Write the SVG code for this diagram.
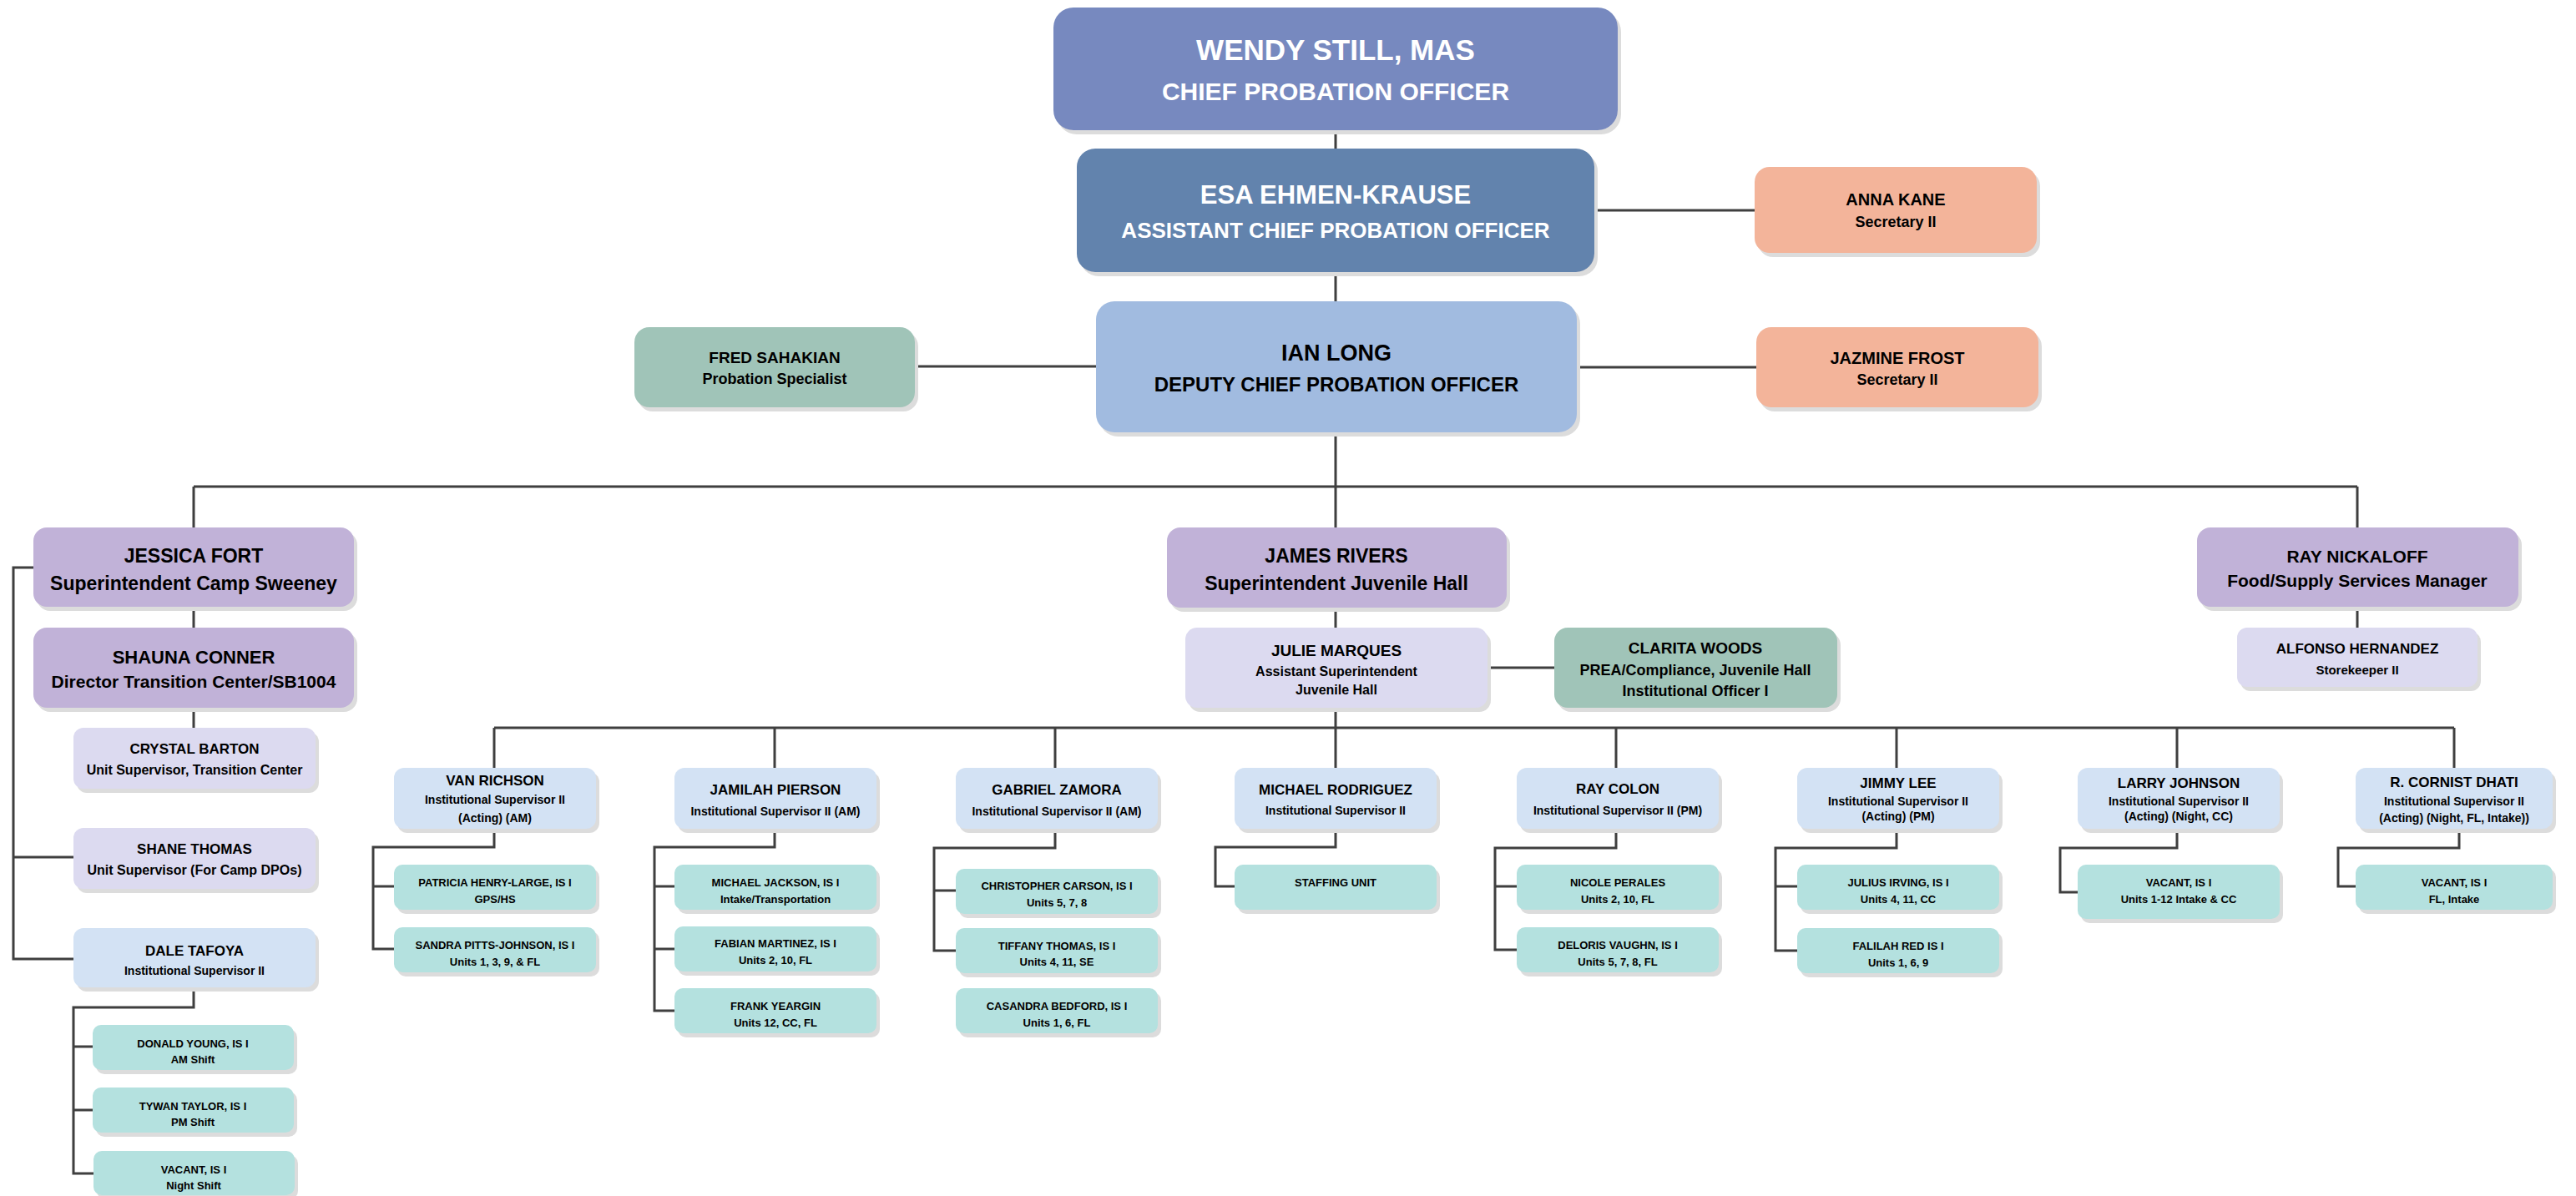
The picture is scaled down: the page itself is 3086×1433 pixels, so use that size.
<svg xmlns="http://www.w3.org/2000/svg" width="3086" height="1433" viewBox="0 0 3086 1433">
<defs>
<filter id="sh" x="-5%" y="-5%" width="115%" height="125%"><feDropShadow dx="4" dy="5" stdDeviation="0" flood-color="#dcdcdc" flood-opacity="1"/></filter>
</defs>
<style>
text{font-family:"Liberation Sans",Arial,sans-serif;font-weight:bold;text-anchor:middle;fill:#000}
.w{fill:#ffffff}
rect{filter:url(#sh)}
.c1{fill:#7789BF}.c2{fill:#6283AD}.c3{fill:#A1BBE0}.c4{fill:#F3B49A}.c5{fill:#A0C4B8}
.pu{fill:#C1B2D8}.lv{fill:#DCDAF0}.lb{fill:#D3E2F4}.tl{fill:#B4E1DF}
.con path{fill:none;stroke:#3f3f3f;stroke-width:3}
.s13{font-size:13px}.s14{font-size:14px}.s15{font-size:15px}.s16{font-size:16px}.s17{font-size:17px}.s18{font-size:18px}.s19{font-size:19px}.s20{font-size:20px}.s21{font-size:21px}.s22{font-size:22px}.s23{font-size:23px}
</style>
<rect width="3086" height="1433" fill="#ffffff" style="filter:none"/>
<g class="con">
<path d="M1600 156V178M1600 326V361M1910 252H2102M1889 440H2104M1096 439H1313M1600 518V583M232 583H2824M232 583V632M1600 583V632M2824 583V632"/>
<path d="M232 727V752M232 848V872M40 680H16V1149H88M16 1027H88M232 1183V1207H88V1406H112M88 1254H111M88 1330H111"/>
<path d="M1600 728V752M1782 800H1862M1600 848V920M592 872H2940M592 872V920M928 872V920M1264 872V920M1936 872V920M2272 872V920M2608 872V920M2940 872V920M2824 727V752"/>
<path d="M592 993V1015H447V1137H472M447 1062H472"/>
<path d="M928 993V1015H784V1211H808M784 1062H808M784 1137H808"/>
<path d="M1264 993V1016H1119V1139H1145M1119 1067H1145"/>
<path d="M1600 993V1015H1456V1062H1479"/>
<path d="M1936 993V1016H1791V1138H1817M1791 1062H1817"/>
<path d="M2272 993V1016H2127V1139H2153M2127 1062H2153"/>
<path d="M2608 993V1016H2468V1069H2489"/>
<path d="M2946 993V1016H2801V1062H2822"/>
</g>
<g id="wendy"><rect class="c1" x="1262" y="9" width="676" height="147" rx="24"/><text class="w" x="1600" y="72" style="font-size:35px">WENDY STILL, MAS</text><text class="w" x="1600" y="120" style="font-size:30px">CHIEF PROBATION OFFICER</text></g>
<g id="esa"><rect class="c2" x="1290" y="178" width="620" height="148" rx="22"/><text class="w" x="1600" y="244" style="font-size:31px">ESA EHMEN-KRAUSE</text><text class="w" x="1600" y="285" style="font-size:26px">ASSISTANT CHIEF PROBATION OFFICER</text></g>
<g id="ian"><rect class="c3" x="1313" y="361" width="576" height="157" rx="22"/><text x="1601" y="432" style="font-size:27px">IAN LONG</text><text x="1601" y="469" style="font-size:24px">DEPUTY CHIEF PROBATION OFFICER</text></g>
<g id="anna"><rect class="c4" x="2102" y="200" width="338" height="103" rx="18"/><text class="s20" x="2271" y="246">ANNA KANE</text><text class="s18" x="2271" y="272">Secretary II</text></g>
<g id="jazmine"><rect class="c4" x="2104" y="392" width="338" height="96" rx="18"/><text class="s20" x="2273" y="436">JAZMINE FROST</text><text class="s18" x="2273" y="461">Secretary II</text></g>
<g id="fred"><rect class="c5" x="760" y="392" width="336" height="96" rx="18"/><text class="s19" x="928" y="435">FRED SAHAKIAN</text><text class="s18" x="928" y="460">Probation Specialist</text></g>
<g id="jessica"><rect class="pu" x="40" y="632" width="384" height="95" rx="16"/><text class="s23" x="232" y="674">JESSICA FORT</text><text class="s23" x="232" y="707">Superintendent Camp Sweeney</text></g>
<g id="shauna"><rect class="pu" x="40" y="752" width="384" height="96" rx="16"/><text class="s22" x="232" y="795">SHAUNA CONNER</text><text class="s21" x="232" y="824">Director Transition Center/SB1004</text></g>
<g id="crystal"><rect class="lv" x="88" y="872" width="290" height="73" rx="12"/><text class="s17" x="233" y="903">CRYSTAL BARTON</text><text class="s16" x="233" y="928">Unit Supervisor, Transition Center</text></g>
<g id="shane"><rect class="lv" x="88" y="992" width="290" height="73" rx="12"/><text class="s17" x="233" y="1023">SHANE THOMAS</text><text class="s16" x="233" y="1048">Unit Supervisor (For Camp DPOs)</text></g>
<g id="dale"><rect class="lb" x="88" y="1112" width="290" height="71" rx="12"/><text class="s17" x="233" y="1145">DALE TAFOYA</text><text class="s14" x="233" y="1168">Institutional Supervisor II</text></g>
<g id="donald"><rect class="tl" x="111" y="1228" width="241" height="54" rx="10"/><text class="s13" x="231" y="1255">DONALD YOUNG, IS I</text><text class="s13" x="231" y="1274">AM Shift</text></g>
<g id="tywan"><rect class="tl" x="111" y="1303" width="241" height="54" rx="10"/><text class="s13" x="231" y="1330">TYWAN TAYLOR, IS I</text><text class="s13" x="231" y="1349">PM Shift</text></g>
<g id="vacant-night"><rect class="tl" x="112" y="1379" width="241" height="53" rx="10"/><text class="s13" x="232" y="1406">VACANT, IS I</text><text class="s13" x="232" y="1425">Night Shift</text></g>
<g id="james"><rect class="pu" x="1398" y="632" width="407" height="96" rx="16"/><text class="s23" x="1601" y="674">JAMES RIVERS</text><text class="s23" x="1601" y="707">Superintendent Juvenile Hall</text></g>
<g id="julie"><rect class="lv" x="1420" y="752" width="362" height="96" rx="14"/><text class="s19" x="1601" y="786">JULIE MARQUES</text><text class="s16" x="1601" y="810">Assistant Superintendent</text><text class="s16" x="1601" y="832">Juvenile Hall</text></g>
<g id="clarita"><rect class="c5" x="1862" y="752" width="339" height="96" rx="16"/><text class="s19" x="2031" y="783">CLARITA WOODS</text><text class="s18" x="2031" y="809">PREA/Compliance, Juvenile Hall</text><text class="s18" x="2031" y="834">Institutional Officer I</text></g>
<g id="nickaloff"><rect class="pu" x="2632" y="632" width="385" height="95" rx="16"/><text class="s21" x="2824" y="674">RAY NICKALOFF</text><text class="s21" x="2824" y="703">Food/Supply Services Manager</text></g>
<g id="alfonso"><rect class="lv" x="2680" y="752" width="288" height="71" rx="12"/><text class="s17" x="2824" y="783">ALFONSO HERNANDEZ</text><text class="s15" x="2824" y="808">Storekeeper II</text></g>
<g id="van"><rect class="lb" x="472" y="920" width="242" height="73" rx="12"/><text class="s17" x="593" y="941">VAN RICHSON</text><text class="s14" x="593" y="963">Institutional Supervisor II</text><text class="s14" x="593" y="985">(Acting) (AM)</text></g>
<g id="jamilah"><rect class="lb" x="808" y="920" width="242" height="73" rx="12"/><text class="s17" x="929" y="952">JAMILAH PIERSON</text><text class="s14" x="929" y="977">Institutional Supervisor II (AM)</text></g>
<g id="gabriel"><rect class="lb" x="1145" y="920" width="242" height="73" rx="12"/><text class="s17" x="1266" y="952">GABRIEL ZAMORA</text><text class="s14" x="1266" y="977">Institutional Supervisor II (AM)</text></g>
<g id="rodriguez"><rect class="lb" x="1479" y="920" width="242" height="73" rx="12"/><text class="s17" x="1600" y="952">MICHAEL RODRIGUEZ</text><text class="s14" x="1600" y="976">Institutional Supervisor II</text></g>
<g id="colon"><rect class="lb" x="1817" y="920" width="242" height="73" rx="12"/><text class="s17" x="1938" y="951">RAY COLON</text><text class="s14" x="1938" y="976">Institutional Supervisor II (PM)</text></g>
<g id="lee"><rect class="lb" x="2153" y="920" width="242" height="73" rx="12"/><text class="s17" x="2274" y="944">JIMMY LEE</text><text class="s14" x="2274" y="965">Institutional Supervisor II</text><text class="s14" x="2274" y="983">(Acting) (PM)</text></g>
<g id="johnson"><rect class="lb" x="2489" y="920" width="242" height="73" rx="12"/><text class="s17" x="2610" y="944">LARRY JOHNSON</text><text class="s14" x="2610" y="965">Institutional Supervisor II</text><text class="s14" x="2610" y="983">(Acting) (Night, CC)</text></g>
<g id="dhati"><rect class="lb" x="2822" y="920" width="236" height="73" rx="12"/><text class="s17" x="2940" y="943">R. CORNIST DHATI</text><text class="s14" x="2940" y="965">Institutional Supervisor II</text><text class="s14" x="2940" y="985">(Acting) (Night, FL, Intake))</text></g>
<g id="patricia"><rect class="tl" x="472" y="1036" width="242" height="54" rx="10"/><text class="s13" x="593" y="1062">PATRICIA HENRY-LARGE, IS I</text><text class="s13" x="593" y="1082">GPS/HS</text></g>
<g id="sandra"><rect class="tl" x="472" y="1111" width="242" height="54" rx="10"/><text class="s13" x="593" y="1137">SANDRA PITTS-JOHNSON, IS I</text><text class="s13" x="593" y="1157">Units 1, 3, 9, &amp; FL</text></g>
<g id="mjackson"><rect class="tl" x="808" y="1036" width="242" height="54" rx="10"/><text class="s13" x="929" y="1062">MICHAEL JACKSON, IS I</text><text class="s13" x="929" y="1082">Intake/Transportation</text></g>
<g id="fabian"><rect class="tl" x="808" y="1110" width="242" height="54" rx="10"/><text class="s13" x="929" y="1135">FABIAN MARTINEZ, IS I</text><text class="s13" x="929" y="1155">Units 2, 10, FL</text></g>
<g id="frank"><rect class="tl" x="808" y="1184" width="242" height="54" rx="10"/><text class="s13" x="929" y="1210">FRANK YEARGIN</text><text class="s13" x="929" y="1230">Units 12, CC, FL</text></g>
<g id="christopher"><rect class="tl" x="1145" y="1041" width="242" height="54" rx="10"/><text class="s13" x="1266" y="1066">CHRISTOPHER CARSON, IS I</text><text class="s13" x="1266" y="1086">Units 5, 7, 8</text></g>
<g id="tiffany"><rect class="tl" x="1145" y="1112" width="242" height="54" rx="10"/><text class="s13" x="1266" y="1138">TIFFANY THOMAS, IS I</text><text class="s13" x="1266" y="1157">Units 4, 11, SE</text></g>
<g id="casandra"><rect class="tl" x="1145" y="1184" width="242" height="54" rx="10"/><text class="s13" x="1266" y="1210">CASANDRA BEDFORD, IS I</text><text class="s13" x="1266" y="1230">Units 1, 6, FL</text></g>
<g id="staffing"><rect class="tl" x="1479" y="1036" width="242" height="54" rx="10"/><text class="s13" x="1600" y="1062">STAFFING UNIT</text></g>
<g id="nicole"><rect class="tl" x="1817" y="1036" width="242" height="54" rx="10"/><text class="s13" x="1938" y="1062">NICOLE PERALES</text><text class="s13" x="1938" y="1082">Units 2, 10, FL</text></g>
<g id="deloris"><rect class="tl" x="1817" y="1111" width="242" height="54" rx="10"/><text class="s13" x="1938" y="1137">DELORIS VAUGHN, IS I</text><text class="s13" x="1938" y="1157">Units 5, 7, 8, FL</text></g>
<g id="julius"><rect class="tl" x="2153" y="1036" width="242" height="54" rx="10"/><text class="s13" x="2274" y="1062">JULIUS IRVING, IS I</text><text class="s13" x="2274" y="1082">Units 4, 11, CC</text></g>
<g id="falilah"><rect class="tl" x="2153" y="1112" width="242" height="54" rx="10"/><text class="s13" x="2274" y="1138">FALILAH RED IS I</text><text class="s13" x="2274" y="1158">Units 1, 6, 9</text></g>
<g id="vacant-cc"><rect class="tl" x="2489" y="1036" width="242" height="65" rx="10"/><text class="s13" x="2610" y="1062">VACANT, IS I</text><text class="s13" x="2610" y="1082">Units 1-12 Intake &amp; CC</text></g>
<g id="vacant-fl"><rect class="tl" x="2822" y="1036" width="236" height="54" rx="10"/><text class="s13" x="2940" y="1062">VACANT, IS I</text><text class="s13" x="2940" y="1082">FL, Intake</text></g>
</svg>
